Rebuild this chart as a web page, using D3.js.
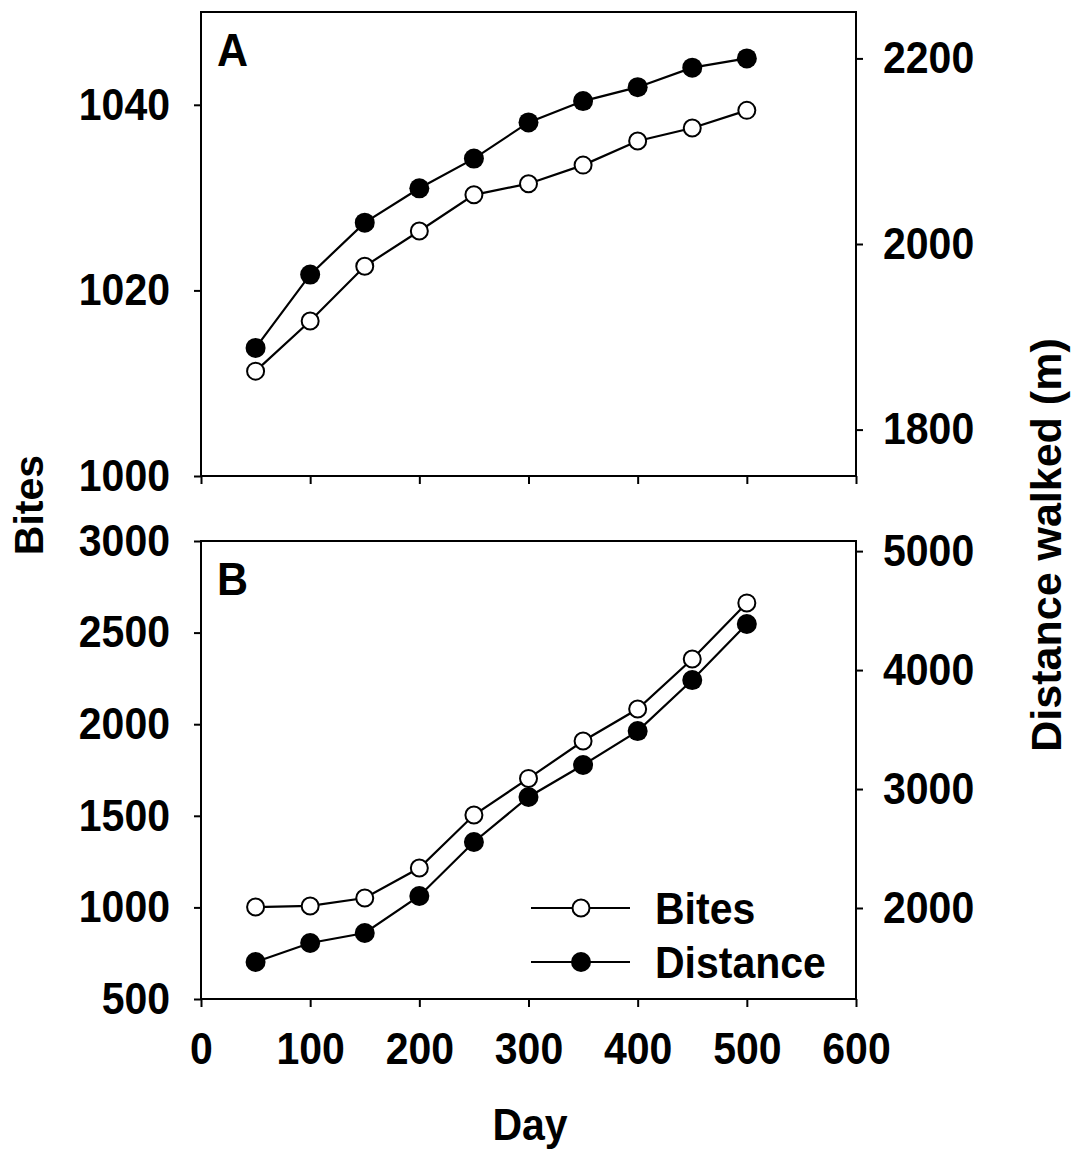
<!DOCTYPE html>
<html>
<head>
<meta charset="utf-8">
<script src="https://cdn.jsdelivr.net/npm/d3@7"></script>
<style>
  body { margin: 0; background: #fff; }
  svg text { font-family: "Liberation Sans", Arial, Helvetica, sans-serif; font-weight: bold; fill: #000; }
  /* slightly tall lettering for upright labels */
  svg text.tall { transform-box: fill-box; transform-origin: center; transform: scaleY(1.08); }
</style>
</head>
<body>
<script>
// Sampling days (x values shared by both panels)
const days = [50, 100, 150, 200, 250, 300, 350, 400, 450, 500];

// Panel A: bites (left axis) and distance walked in m (right axis)
const bitesA = [1011.3, 1016.7, 1022.6, 1026.4, 1030.3, 1031.5, 1033.5, 1036.1, 1037.5, 1039.4];
const distanceA = [1888, 1967, 2023, 2060, 2092, 2131, 2154, 2169, 2190, 2200];

// Panel B: bites (left axis) and distance walked in m (right axis)
const bitesB = [1002, 1008, 1051, 1215, 1504, 1704, 1908, 2083, 2356, 2662];
const distanceB = [1546, 1706, 1790, 2101, 2555, 2933, 3202, 3487, 3916, 4387];

// Tick values
const xTicks = [0, 100, 200, 300, 400, 500, 600];
const bitesTicksA = [1000, 1020, 1040];
const distTicksA = [1800, 2000, 2200];
const bitesTicksB = [500, 1000, 1500, 2000, 2500, 3000];
const distTicksB = [2000, 3000, 4000, 5000];

// Legend entries
const legendLabels = ["Bites", "Distance"];

const W = 1072, H = 1153;
const FS = 41;

const svg = d3.select("body").append("svg")
  .attr("width", W).attr("height", H)
  .attr("viewBox", `0 0 ${W} ${H}`);

const x = d3.scaleLinear().domain([0, 600]).range([201, 856]);

const panels = [
  {
    label: "A", top: 12, bottom: 476,
    left: d3.scaleLinear().domain([1000, 1050]),
    right: d3.scaleLinear().domain([1750, 2250]),
    bites: bitesA, dist: distanceA,
    leftTicks: bitesTicksA, rightTicks: distTicksA, xLabels: false
  },
  {
    label: "B", top: 541, bottom: 999,
    left: d3.scaleLinear().domain([500, 3000]),
    right: d3.scaleLinear().domain([1235, 5085]),
    bites: bitesB, dist: distanceB,
    leftTicks: bitesTicksB, rightTicks: distTicksB, xLabels: true
  }
];

function styleAxis(g) {
  g.select(".domain").remove();
  g.selectAll(".tick line").attr("stroke", "#000").attr("stroke-width", 2);
  g.selectAll(".tick text").attr("font-size", FS).attr("fill", "#000")
    .attr("font-family", "Liberation Sans, Arial, sans-serif").attr("font-weight", "bold")
    .classed("tall", true);
}

panels.forEach(p => {
  p.left.range([p.bottom, p.top]);
  p.right.range([p.bottom, p.top]);
  const g = svg.append("g");

  // Axes
  g.append("g").attr("transform", `translate(${x.range()[0]},0)`)
    .call(d3.axisLeft(p.left).tickValues(p.leftTicks).tickSize(7).tickPadding(24).tickFormat(d3.format("d")))
    .call(styleAxis);
  g.append("g").attr("transform", `translate(${x.range()[1]},0)`)
    .call(d3.axisRight(p.right).tickValues(p.rightTicks).tickSize(7).tickPadding(20).tickFormat(d3.format("d")))
    .call(styleAxis);
  g.append("g").attr("transform", `translate(0,${p.bottom})`)
    .call(d3.axisBottom(x).tickValues(xTicks).tickSize(8).tickPadding(27).tickFormat(p.xLabels ? d3.format("d") : ""))
    .call(styleAxis);

  // Frame
  g.append("rect")
    .attr("x", x.range()[0]).attr("y", p.top)
    .attr("width", x.range()[1] - x.range()[0]).attr("height", p.bottom - p.top)
    .attr("fill", "none").attr("stroke", "#000").attr("stroke-width", 2);

  // Panel letter
  g.append("text").attr("class", "tall").attr("x", 217).attr("y", p.top + 53).attr("font-size", FS + 2).text(p.label);

  const distLine = d3.line().x((d, i) => x(days[i])).y(d => p.right(d));
  const bitesLine = d3.line().x((d, i) => x(days[i])).y(d => p.left(d));

  // Distance series (filled circles, right axis)
  g.append("path").datum(p.dist).attr("d", distLine)
    .attr("fill", "none").attr("stroke", "#000").attr("stroke-width", 2.2);
  g.selectAll(".dist").data(p.dist).enter().append("circle")
    .attr("cx", (d, i) => x(days[i])).attr("cy", d => p.right(d))
    .attr("r", 10).attr("fill", "#000");

  // Bites series (open circles, left axis)
  g.append("path").datum(p.bites).attr("d", bitesLine)
    .attr("fill", "none").attr("stroke", "#000").attr("stroke-width", 2.2);
  g.selectAll(".bites").data(p.bites).enter().append("circle")
    .attr("cx", (d, i) => x(days[i])).attr("cy", d => p.left(d))
    .attr("r", 8.5).attr("fill", "#fff").attr("stroke", "#000").attr("stroke-width", 2);
});

// Legend inside panel B
const legend = svg.append("g");
legendLabels.forEach((lab, i) => {
  const y = 908 + i * 54;
  legend.append("line").attr("x1", 531).attr("x2", 630).attr("y1", y).attr("y2", y)
    .attr("stroke", "#000").attr("stroke-width", 2);
  const c = legend.append("circle").attr("cx", 581).attr("cy", y);
  if (i === 0) c.attr("r", 8.5).attr("fill", "#fff").attr("stroke", "#000").attr("stroke-width", 2);
  else c.attr("r", 10).attr("fill", "#000");
  legend.append("text").attr("class", "tall").attr("x", 655).attr("y", y + 15).attr("font-size", FS).text(lab);
});

// Axis titles
svg.append("text").attr("transform", "translate(43,505) rotate(-90)")
  .attr("text-anchor", "middle").attr("font-size", FS).text("Bites");
svg.append("text").attr("transform", "translate(1061,545) rotate(-90)")
  .attr("text-anchor", "middle").attr("font-size", FS + 2).text("Distance walked (m)");
svg.append("text").attr("class", "tall").attr("x", 530).attr("y", 1139)
  .attr("text-anchor", "middle").attr("font-size", FS).text("Day");
</script>
</body>
</html>
